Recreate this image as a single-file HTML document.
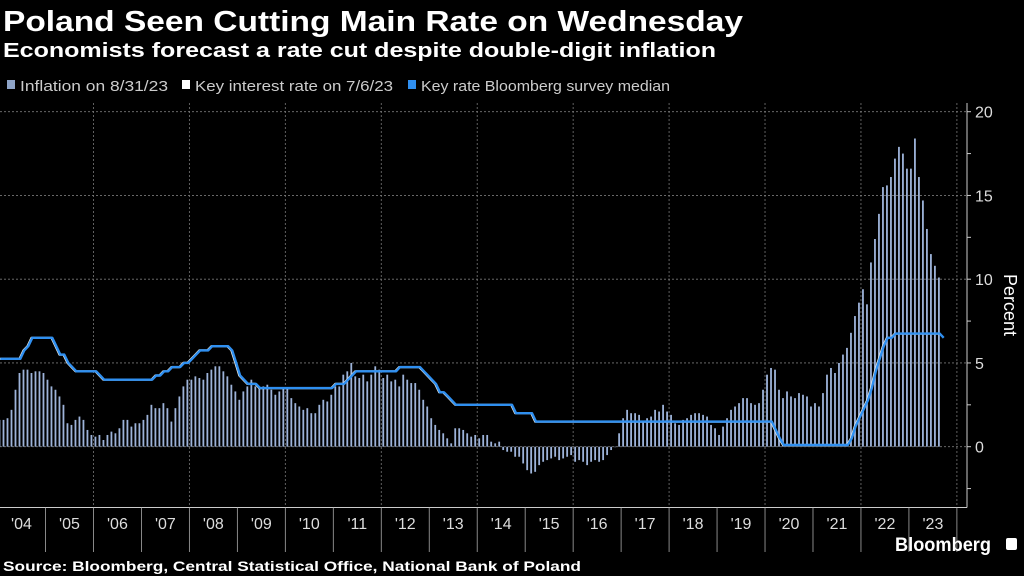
<!DOCTYPE html>
<html><head><meta charset="utf-8"><style>
html,body{margin:0;padding:0;background:#000;}
svg{display:block;font-family:"Liberation Sans",sans-serif;}
</style></head><body>
<svg id="chart" width="1024" height="576" viewBox="0 0 1024 576" xmlns="http://www.w3.org/2000/svg">
<rect width="1024" height="576" fill="#000"/>
<text x="3" y="31" fill="#fff" font-size="29" font-weight="bold" textLength="740" lengthAdjust="spacingAndGlyphs">Poland Seen Cutting Main Rate on Wednesday</text>
<text x="3" y="57" fill="#fff" font-size="20" font-weight="bold" textLength="713" lengthAdjust="spacingAndGlyphs">Economists forecast a rate cut despite double-digit inflation</text>
<g font-size="15" fill="#ccc">
<g><rect x="7" y="80" width="8" height="9" fill="#8ea4c8"/><text x="20" y="91" textLength="148" lengthAdjust="spacingAndGlyphs">Inflation on 8/31/23</text></g>
<g><rect x="182" y="80" width="8" height="9" fill="#fff"/><text x="195" y="91" textLength="198" lengthAdjust="spacingAndGlyphs">Key interest rate on 7/6/23</text></g>
<g><rect x="408" y="80" width="8" height="9" fill="#2f8ff0"/><text x="421" y="91" textLength="249" lengthAdjust="spacingAndGlyphs">Key rate Bloomberg survey median</text></g>
</g>
<g id="grid"></g>
<g id="bars"></g>
<g id="lines"></g>
<g id="axes"></g>
<text transform="translate(1004,305) rotate(90)" fill="#fff" font-size="18" text-anchor="middle">Percent</text>
<text x="3" y="571" fill="#fff" font-size="14" font-weight="bold" textLength="578" lengthAdjust="spacingAndGlyphs">Source: Bloomberg, Central Statistical Office, National Bank of Poland</text>
<text x="895" y="551" fill="#fff" font-size="19" font-weight="bold" textLength="96" lengthAdjust="spacingAndGlyphs">Bloomberg</text>
<rect x="1006" y="538" width="11" height="12" rx="2" fill="#fff"/>
</svg>
<script>
const years = ['04','05','06','07','08','09','10','11','12','13','14','15','16','17','18','19','20','21','22','23'];
const yTicks = [0,5,10,15,20];
const inflation = [
1.6,1.6,1.7,2.2,3.4,4.4,4.6,4.6,4.4,4.5,4.5,4.4,
4.0,3.6,3.4,3.0,2.5,1.4,1.3,1.6,1.8,1.6,1.0,0.7,
0.6,0.7,0.4,0.7,0.9,0.8,1.1,1.6,1.6,1.2,1.4,1.4,
1.6,1.9,2.5,2.3,2.3,2.6,2.3,1.5,2.3,3.0,3.6,4.0,
4.0,4.2,4.1,4.0,4.4,4.6,4.8,4.8,4.5,4.2,3.7,3.3,
2.8,3.3,3.6,4.0,3.6,3.5,3.6,3.7,3.4,3.1,3.3,3.5,
3.5,2.9,2.6,2.4,2.2,2.3,2.0,2.0,2.5,2.8,2.7,3.1,
3.6,3.6,4.3,4.5,5.0,4.2,4.1,4.3,3.9,4.3,4.8,4.6,
4.1,4.3,3.9,4.0,3.6,4.3,4.0,3.8,3.8,3.4,2.8,2.4,
1.7,1.3,1.0,0.8,0.5,0.2,1.1,1.1,1.0,0.8,0.6,0.7,
0.5,0.7,0.7,0.3,0.2,0.3,-0.2,-0.3,-0.3,-0.6,-0.6,-1.0,
-1.4,-1.6,-1.5,-1.1,-0.9,-0.8,-0.7,-0.6,-0.8,-0.7,-0.6,-0.5,
-0.9,-0.8,-0.9,-1.1,-0.9,-0.8,-0.9,-0.8,-0.5,-0.2,0.0,0.8,
1.7,2.2,2.0,2.0,1.9,1.5,1.7,1.8,2.2,2.1,2.5,2.1,
1.9,1.4,1.3,1.6,1.7,1.9,2.0,2.0,1.9,1.8,1.3,1.1,
0.7,1.2,1.7,2.2,2.4,2.6,2.9,2.9,2.6,2.5,2.6,3.4,
4.3,4.7,4.6,3.4,2.9,3.3,3.0,2.9,3.2,3.1,3.0,2.4,
2.6,2.4,3.2,4.3,4.7,4.4,5.0,5.5,5.9,6.8,7.8,8.6,
9.4,8.5,11.0,12.4,13.9,15.5,15.6,16.1,17.2,17.9,17.5,16.6,
16.6,18.4,16.1,14.7,13.0,11.5,10.8,10.1];
const keyRate = [
5.25,5.25,5.25,5.25,5.25,5.25,5.75,6.0,6.5,6.5,6.5,6.5,
6.5,6.5,6.0,5.5,5.5,5.0,4.75,4.5,4.5,4.5,4.5,4.5,
4.5,4.25,4.0,4.0,4.0,4.0,4.0,4.0,4.0,4.0,4.0,4.0,
4.0,4.0,4.0,4.25,4.25,4.5,4.5,4.75,4.75,4.75,5.0,5.0,
5.25,5.5,5.75,5.75,5.75,6.0,6.0,6.0,6.0,6.0,5.75,5.0,
4.25,4.0,3.75,3.75,3.75,3.5,3.5,3.5,3.5,3.5,3.5,3.5,
3.5,3.5,3.5,3.5,3.5,3.5,3.5,3.5,3.5,3.5,3.5,3.5,
3.75,3.75,3.75,4.0,4.25,4.5,4.5,4.5,4.5,4.5,4.5,4.5,
4.5,4.5,4.5,4.5,4.75,4.75,4.75,4.75,4.75,4.75,4.5,4.25,
4.0,3.75,3.25,3.25,3.0,2.75,2.5,2.5,2.5,2.5,2.5,2.5,
2.5,2.5,2.5,2.5,2.5,2.5,2.5,2.5,2.5,2.0,2.0,2.0,
2.0,2.0,1.5,1.5,1.5,1.5,1.5,1.5,1.5,1.5,1.5,1.5,
1.5,1.5,1.5,1.5,1.5,1.5,1.5,1.5,1.5,1.5,1.5,1.5,
1.5,1.5,1.5,1.5,1.5,1.5,1.5,1.5,1.5,1.5,1.5,1.5,
1.5,1.5,1.5,1.5,1.5,1.5,1.5,1.5,1.5,1.5,1.5,1.5,
1.5,1.5,1.5,1.5,1.5,1.5,1.5,1.5,1.5,1.5,1.5,1.5,
1.5,1.5,1.0,0.5,0.1,0.1,0.1,0.1,0.1,0.1,0.1,0.1,
0.1,0.1,0.1,0.1,0.1,0.1,0.1,0.1,0.1,0.5,1.25,1.75,
2.25,2.75,3.5,4.5,5.25,6.0,6.5,6.5,6.75,6.75,6.75,6.75,
6.75,6.75,6.75,6.75,6.75,6.75,6.75,6.75];
const surveyMedian = keyRate.concat([6.5]);

const NS='http://www.w3.org/2000/svg';
const X0=-2.5, PX_PER_YEAR=47.97, Y0=446.7, PX_PER_UNIT=16.75;
const AXIS_RIGHT=967, AXIS_BOTTOM=507.5, PLOT_TOP=103;
function xYear(t){return X0+(t-2004)*PX_PER_YEAR;}
function xMonth(i){return xYear(2004+(i+0.5)/12);}
function yVal(v){return Y0-v*PX_PER_UNIT;}
function mk(tag,attrs,parent){const e=document.createElementNS(NS,tag);for(const k in attrs)e.setAttribute(k,attrs[k]);parent.appendChild(e);return e;}

const grid=document.getElementById('grid');
yTicks.forEach(v=>{
  const l=mk('line',{x1:0,x2:AXIS_RIGHT,y1:yVal(v),y2:yVal(v),stroke:'#777','stroke-width':0.8,'stroke-dasharray':'2,2'},grid);
  
  
});
for(let y=2006;y<=2024;y+=2){
  const l=mk('line',{x1:xYear(y),x2:xYear(y),y1:PLOT_TOP,y2:AXIS_BOTTOM,stroke:'#777','stroke-width':0.8,'stroke-dasharray':'2,2'},grid);
  
  
}

const bars=document.getElementById('bars');
inflation.forEach((v,i)=>{
  const y1=yVal(Math.max(v,0)), y2=yVal(Math.min(v,0));
  const r=mk('rect',{x:xMonth(i)-0.9,y:y1,width:1.8,height:Math.max(y2-y1,0.5),fill:'#9db3d9'},bars);
  
  
});

const lines=document.getElementById('lines');
function pts(arr){return arr.map((v,i)=>xMonth(i).toFixed(1)+','+yVal(v).toFixed(1)).join(' ');}
const wl=mk('polyline',{points:pts(keyRate),fill:'none',stroke:'#f2eee0','stroke-width':2.2,'stroke-linejoin':'round'},lines);


const bl=mk('polyline',{points:pts(surveyMedian),fill:'none',stroke:'#2f8ff0','stroke-width':2.4,'stroke-linejoin':'round',transform:'translate(0.8,0)'},lines);



const axes=document.getElementById('axes');
const xa=mk('line',{x1:0,x2:AXIS_RIGHT,y1:AXIS_BOTTOM,y2:AXIS_BOTTOM,stroke:'#ccc','stroke-width':1},axes);


const ya=mk('line',{x1:AXIS_RIGHT,x2:AXIS_RIGHT,y1:PLOT_TOP,y2:AXIS_BOTTOM,stroke:'#ccc','stroke-width':1},axes);


for(let y=2005;y<=2024;y++){
  const t=mk('line',{x1:xYear(y),x2:xYear(y),y1:AXIS_BOTTOM,y2:552,stroke:'#aaa','stroke-width':0.8},axes);
  
  
}
years.forEach((lab,i)=>{
  const t=mk('text',{x:xYear(2004+i+0.5),y:529,fill:'#ddd','font-size':16,'text-anchor':'middle'},axes);
  t.textContent="'"+lab;
  
  
});
for(let v=-2.5;v<=20;v+=2.5){
  const t=mk('line',{x1:AXIS_RIGHT,x2:AXIS_RIGHT+4,y1:yVal(v),y2:yVal(v),stroke:'#ccc','stroke-width':1},axes);
  
  
}
yTicks.forEach(v=>{
  const t=mk('text',{x:975,y:yVal(v)+6,fill:'#ddd','font-size':16},axes);
  t.textContent=String(v);
  
  
});
</script>
</body></html>
